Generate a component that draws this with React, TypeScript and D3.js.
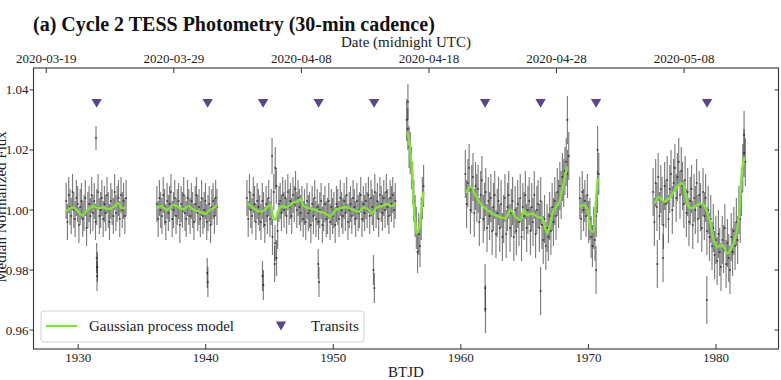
import React from 'react';
import * as d3 from 'd3';

// ---------- data ----------
const xTicks = [1930, 1940, 1950, 1960, 1970, 1980];
const yTicks = [0.96, 0.98, 1.0, 1.02, 1.04];
const dateTicks = ['2020-03-19', '2020-03-29', '2020-04-08', '2020-04-18', '2020-04-28', '2020-05-08'];
const transitTimes = [1931.45, 1940.15, 1944.5, 1948.85, 1953.2, 1961.9, 1966.25, 1970.6, 1979.3];
const transitLevel = 1.0355;

// segment time ranges (BTJD) and typical flux error (ppt)
const segStart = [1929.06, 1936.17, 1943.23, 1955.75, 1960.35, 1969.32, 1975.07];
const segEnd = [1933.76, 1940.88, 1954.86, 1957.08, 1968.46, 1970.81, 1982.3];
const segErr = [6, 6, 6, 7, 8, 7, 8];

// photometry (ppt offset from 1)
const seg1Flux = [3, -4, 5, 1, -2, 6, 0, -3, 4, 2, -5, 1, 3, -3, -1, 4, -6, 0, 2, -2, 5, -1, 3, -4, 1, 6, -2, 0, 4, -3, 2, -1, 5, 0, -4, 3, 1, -2, 6, -1, 2, 4, -3, 5, 0, 3, -2, 4];
const seg2Flux = [2, -3, 4, 0, -2, 5, 1, -4, 3, -1, 2, 6, -3, 0, 4, -2, 1, 3, -5, 2, 0, 5, -1, -3, 4, 1, -2, 3, 0, -4, 2, 5, -1, 1, -3, 4, -2, 0, 3, -4, -1, 2, -5, 1, 3, -2, 4, 1];
const seg3Flux = [4, -3, 6, 0, -2, 5, 2, -4, 3, 1, -1, -4, 3, 0, -5, 2, -2, 4, -3, 1, -9, 6, -11, 8, -7, 2, 3, -1, 5, 0, 4, -2, 6, 1, 3, -2, 5, 2, 7, 0, 4, 1, -1, 2, -3, 1, -4, 3, -1, 0, -5, 2, -2, 4, -3, 1, -4, 0, 3, -5, -1, 2, -3, -2, 3, -4, 1, -2, 0, -5, 2, 1, -3, 4, 0, -2, 3, -1, 5, -4, 0, 2, -2, 4, 1, -3, 3, -1, 0, 5, -3, 2, -1, 3, 0, 5, -2, 4, 1, -1, 6, 0, 3, -3, 5, 2, -1, 4, 0, 6, 1, -2, 4, 2, 5, 0, 3];
const seg4Flux = [30, 27, 21, 19, 14, 9, 3, -2, -6, -14, -8, -12, -3, 4, 8];
const seg5Flux = [12, 2, 9, 14, 0, 7, 11, -1, 8, 4, 7, -4, 5, 10, -3, 1, 6, -6, 3, -2, 4, -7, 1, 5, -8, -1, 3, -6, 2, -9, -3, 4, -8, 1, 5, -6, -1, 3, -9, 0, -7, 2, -4, 4, -9, 1, -2, 5, -6, 0, 3, -7, 1, -4, 5, -8, 0, 2, -6, 3, -5, -10, -3, -12, -6, -9, -2, -7, 1, -4, 3, -2, 6, 2, 8, 5, 11, 9, 13, 16, 12, 18];
const seg6Flux = [4, -3, 6, 0, 3, -2, 5, -4, -3, -9, -12, -6, -10, -2, 6, 12];
const seg7Flux = [6, -4, 9, 1, 11, -2, 7, 3, -5, 8, 2, 10, -3, 7, 12, 0, 9, 14, 4, 11, 16, 5, 13, 8, 2, 10, -1, 6, -4, 3, 7, -5, 4, 0, 9, -3, 5, 1, -6, 6, -2, 4, -7, 0, -9, -3, -12, -6, -15, -10, -17, -8, -14, -19, -10, -13, -6, -18, -11, -16, -20, -9, -14, -7, -12, -4, -10, 0, -3, 6, 14, 19, 16];

// isolated points: [BTJD, ppt, err ppt]
const outlierPts = [
  [1931.4, 24, 4], [1931.45, -16, 5], [1931.48, -22, 5], [1931.51, -19, 5],
  [1940.12, -21, 5], [1940.17, -24, 5],
  [1944.45, -22, 5], [1944.52, -25, 5],
  [1945.2, 18, 6], [1945.45, 14, 7], [1945.4, -18, 6], [1945.55, -16, 6],
  [1948.82, -18, 5], [1948.88, -24, 5],
  [1953.15, -20, 5], [1953.22, -26, 5],
  [1955.85, 36, 6],
  [1961.9, -26, 8], [1961.93, -33, 8],
  [1966.25, -27, 8],
  [1968.35, 30, 8],
  [1970.6, -20, 8], [1970.72, 20, 8],
  [1975.4, -18, 8], [1975.85, -16, 8],
  [1979.28, -30, 8], [1982.2, 25, 8],
];

// Gaussian process model: [BTJD, ppt]
const gp1 = [[1929.06, -0.6], [1929.51, 0.9], [1929.9, 0], [1930.29, -1.7], [1930.68, -0.2], [1931.2, 1.3], [1931.6, 0.6], [1931.99, 0.9], [1932.38, 0.2], [1932.77, 1.1], [1933.16, 2.2], [1933.42, 0.6], [1933.76, 0.9]];
const gp2 = [[1936.17, 0.6], [1936.56, 1.3], [1936.95, 0], [1937.48, 1.7], [1937.87, 0.9], [1938.26, 0.2], [1938.65, 1.3], [1939.05, 0], [1939.57, -0.6], [1939.96, -1.3], [1940.35, 0], [1940.75, 1.1], [1940.88, 1.3]];
const gp3 = [[1943.3, 2.2], [1943.75, 0.6], [1944.27, -0.6], [1944.67, 0.2], [1945.06, 1.7], [1945.32, -2.8], [1945.45, -3.3], [1945.71, 0], [1945.97, 1.3], [1946.37, 0.9], [1946.76, 2.2], [1947.15, 2.8], [1947.41, 3.6], [1947.67, 1.3], [1948.07, 0.6], [1948.46, 0.2], [1948.98, -0.6], [1949.37, -1.1], [1949.76, -2.2], [1950.16, 0], [1950.55, 0.6], [1951.07, 0.9], [1951.59, 0], [1951.99, -0.6], [1952.38, 0.9], [1952.77, 0], [1953.03, -1.1], [1953.43, 0.9], [1953.82, 1.3], [1954.21, 2.0], [1954.6, 1.3], [1954.86, 2.2]];
const gp4 = [[1955.8, 26], [1955.9, 24.4], [1956.05, 19], [1956.17, 13.3], [1956.3, 2.2], [1956.45, -5], [1956.56, -7.8], [1956.75, -5.6], [1956.96, 2.2], [1957.08, 6.1]];
const gp5 = [[1960.41, 5.6], [1960.75, 7.8], [1961.14, 5], [1961.53, 2.2], [1961.92, 0.6], [1962.45, -1.1], [1962.97, -2.2], [1963.49, -2.8], [1963.88, 0], [1964.27, -2.2], [1964.67, -3.3], [1964.93, 0], [1965.19, -1.7], [1965.58, -1.1], [1965.98, -2.2], [1966.37, -2.8], [1966.76, -7.8], [1967.02, -4.4], [1967.28, 0], [1967.67, 2.2], [1967.94, 6.7], [1968.33, 14.4]];
const gp6 = [[1969.32, 1.1], [1969.63, 1.7], [1969.9, 0.6], [1970.16, -6.7], [1970.36, -7.2], [1970.55, 1.1], [1970.73, 10.6]];
const gp7 = [[1975.18, 2.2], [1975.52, 4.4], [1975.91, 2.8], [1976.43, 4.4], [1976.96, 7.8], [1977.35, 8.9], [1977.61, 5.6], [1977.87, 1.1], [1978.13, 0.6], [1978.52, 1.7], [1978.78, 2.2], [1979.04, 1.7], [1979.31, -0.6], [1979.57, -4.4], [1979.83, -10], [1980.09, -12.2], [1980.49, -11.7], [1980.88, -14.4], [1981.14, -13.3], [1981.53, -8.9], [1981.79, -2.2], [1982.05, 13.3], [1982.24, 17.8]];

const segFluxes = [seg1Flux, seg2Flux, seg3Flux, seg4Flux, seg5Flux, seg6Flux, seg7Flux];
const gpSegments = [gp1, gp2, gp3, gp4, gp5, gp6, gp7];

// ---------- layout ----------
const W = 781, H = 380;
const L = 33.5, R = 778.5, T = 68, B = 349;
const FONT = '"Liberation Serif", "Times New Roman", serif';
const GREEN = '#84e23c';
const PURPLE = '#5b4689';

const x = d3.scaleLinear().domain([1926.5, 1984.9]).range([L, R]);
const y = d3.scaleLinear().domain([0.9537, 1.0473]).range([B, T]);
const ppt = (v: number) => 1 + v / 1000;

const dateToBTJD = (s: string) => {
  const [yy, mm, dd] = s.split('-').map(Number);
  return Date.UTC(yy, mm - 1, dd) / 86400000 + 2440587.5 - 2457000;
};

type Pt = { t: number; f: number; e: number };

function buildPoints(): Pt[] {
  const pts: Pt[] = [];
  segFluxes.forEach((arr, s) => {
    const n = arr.length;
    arr.forEach((v, i) => {
      const t = segStart[s] + (i * (segEnd[s] - segStart[s])) / (n - 1);
      pts.push({ t, f: ppt(v), e: segErr[s] / 1000 });
    });
  });
  outlierPts.forEach(([t, v, e]) => pts.push({ t, f: ppt(v), e: e / 1000 }));
  return pts;
}

const tri = (cx: number, cy: number, s: number) =>
  `M${cx - s},${cy - s * 0.85} L${cx + s},${cy - s * 0.85} L${cx},${cy + s * 0.85} Z`;

export default function App() {
  const pts = buildPoints();
  const line = d3
    .line<number[]>()
    .x((d) => x(d[0]))
    .y((d) => y(ppt(d[1])))
    .curve(d3.curveCatmullRom.alpha(0.5));

  return (
    <svg
      width={W}
      height={H}
      style={{ position: 'absolute', left: 0, top: 0, background: '#fff' }}
      fontFamily={FONT}
    >
      <rect width={W} height={H} fill="#fff" />
      {/* title */}
      <text x={33} y={31} fontSize={20} fontWeight="bold" fill="#111">
        (a) Cycle 2 TESS Photometry (30-min cadence)
      </text>
      <text x={(L + R) / 2} y={47} fontSize={15} textAnchor="middle" fill="#222">
        Date (midnight UTC)
      </text>

      {/* data error bars */}
      <g>
        {pts.map((p, i) => (
          <line
            key={'e' + i}
            x1={x(p.t)}
            x2={x(p.t)}
            y1={y(p.f - p.e)}
            y2={y(p.f + p.e)}
            stroke="#111"
            strokeOpacity={0.55}
            strokeWidth={1.15}
          />
        ))}
        {pts.map((p, i) => (
          <circle key={'d' + i} cx={x(p.t)} cy={y(p.f)} r={1.1} fill="#000" fillOpacity={0.55} />
        ))}
      </g>

      {/* GP model */}
      {gpSegments.map((seg, i) => (
        <path key={'gp' + i} d={line(seg) || ''} fill="none" stroke={GREEN} strokeWidth={2.3} strokeLinejoin="round" />
      ))}

      {/* transits */}
      {transitTimes.map((t, i) => (
        <path key={'tr' + i} d={tri(x(t), y(transitLevel), 5.2)} fill={PURPLE} />
      ))}

      {/* spines */}
      <rect x={L} y={T} width={R - L} height={B - T} fill="none" stroke="#333" strokeWidth={1.1} />

      {/* bottom axis */}
      {xTicks.map((t) => (
        <g key={'xt' + t}>
          <line x1={x(t)} x2={x(t)} y1={B} y2={B - 5} stroke="#333" />
          <text x={x(t)} y={362} fontSize={13} textAnchor="middle" fill="#222">
            {t}
          </text>
        </g>
      ))}
      <text x={(L + R) / 2} y={377} fontSize={15} textAnchor="middle" fill="#222">
        BTJD
      </text>

      {/* top date axis */}
      {dateTicks.map((d) => (
        <g key={'dt' + d}>
          <line x1={x(dateToBTJD(d))} x2={x(dateToBTJD(d))} y1={T} y2={T + 5} stroke="#333" />
          <text x={x(dateToBTJD(d))} y={63} fontSize={13} textAnchor="middle" fill="#222">
            {d}
          </text>
        </g>
      ))}

      {/* left / right axis */}
      {yTicks.map((v) => (
        <g key={'yt' + v}>
          <line x1={L - 4} x2={L} y1={y(v)} y2={y(v)} stroke="#333" />
          <line x1={R - 4} x2={R} y1={y(v)} y2={y(v)} stroke="#333" />
          <text x={L - 5} y={y(v) + 4.5} fontSize={13} textAnchor="end" fill="#222">
            {v.toFixed(2)}
          </text>
        </g>
      ))}
      <text transform={`translate(6, 207) rotate(-90)`} fontSize={15} textAnchor="middle" fill="#222">
        Median Normalized Flux
      </text>

      {/* legend */}
      <g>
        <rect x={41} y={311} width={323} height={31} rx={3} fill="#fff" fillOpacity={0.85} stroke="#d0d0d0" />
        <line x1={46} x2={77} y1={326} y2={326} stroke={GREEN} strokeWidth={2.3} />
        <text x={89} y={331} fontSize={15} fill="#222">
          Gaussian process model
        </text>
        <path d={tri(281, 326, 5.2)} fill={PURPLE} />
        <text x={311} y={331} fontSize={15} fill="#222">
          Transits
        </text>
      </g>
    </svg>
  );
}
